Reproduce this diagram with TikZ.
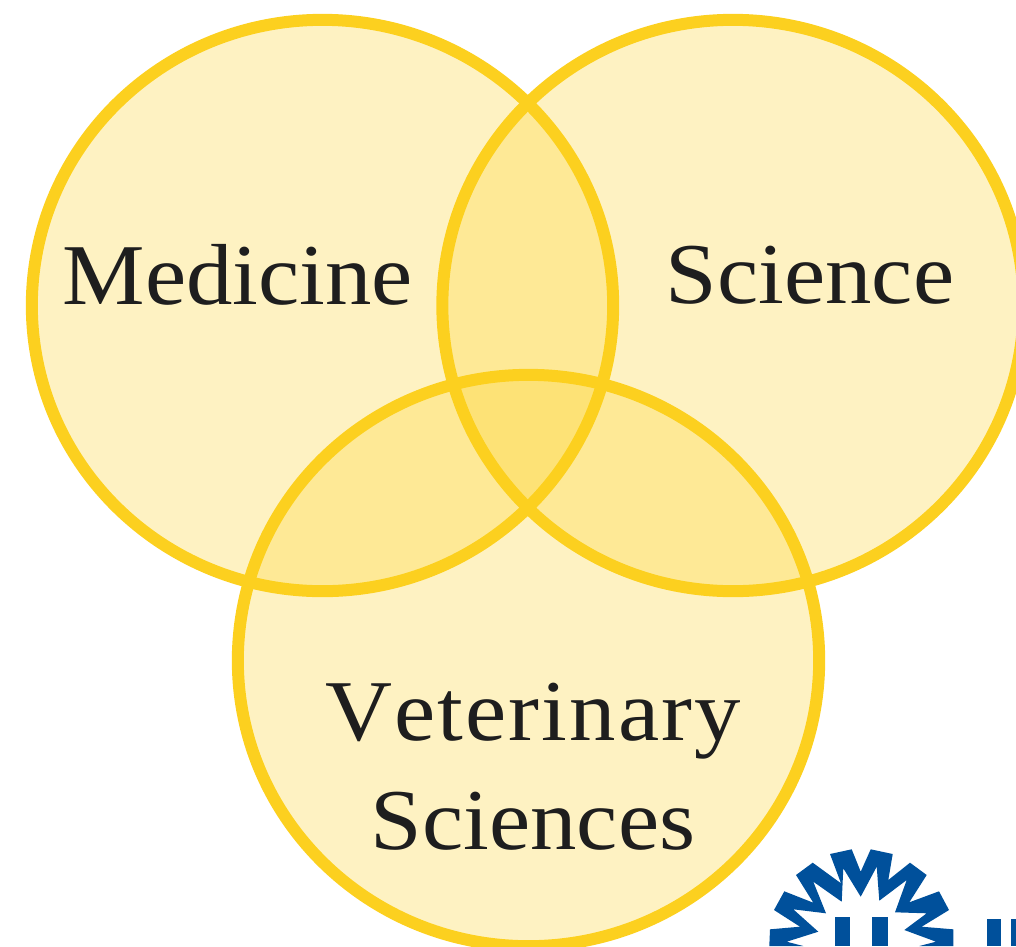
\documentclass[tikz,border=0pt]{standalone}
\usepackage{fontspec}
\setmainfont[FakeStretch=1.07,Kerning=Off]{Liberation Serif}
\usetikzlibrary{shapes.geometric}
\definecolor{ringyellow}{RGB}{252,208,31}
\definecolor{inkblack}{RGB}{30,30,30}
\definecolor{logoblue}{RGB}{0,80,155}
\begin{document}
\begin{tikzpicture}[x=0.75pt,y=-0.75pt,
    ring/.style={ellipse, draw=ringyellow, fill=ringyellow, fill opacity=0.27, draw opacity=1,
      line width=9pt, minimum width=436pt, minimum height=428.5pt, inner sep=0pt},
    label/.style={font=\fontsize{65}{82}\selectfont, text=inkblack, align=center, inner sep=0pt}]
\useasboundingbox (0,0) rectangle (1016,946);
\clip (0,0) rectangle (1016,946);
\node[ring] (medicine) at (322.5,305.5) {};
\node[ring] (science) at (733,305.5) {};
\node[ring] (veterinary) at (528.5,660.5) {};
\node[label] (medicinetext) at (238,275) {Medicine};
\node[label] (sciencetext) at (810,275) {Science};
\node[label] (veterinarytext) at (533,767) {\addfontfeature{LetterSpace=2.5}Veterinary\\Sciences};
% logo
\fill[logoblue] (769.3,946) -- (770,929.3) -- (800,926.7) -- (774,910) -- (784.3,891.3) -- (813.3,902.7)
  -- (796,875) -- (812.7,862.7) -- (841,883.3) -- (830,854) -- (851.7,849.3) -- (860.7,871.7)
  -- (870.7,849.3) -- (892.7,854) -- (888.3,880) -- (910,862.7) -- (926.7,875) -- (909.3,902.3)
  -- (939,891.3) -- (949,910) -- (921.7,926.7) -- (953.3,929.3) -- (953.3,946) -- (919.3,946)
  -- (936,941.7) -- (904.3,930) -- (926.7,913.3) -- (895,912.3) -- (906.7,880) -- (879.3,900.7)
  -- (876.7,866.7) -- (860.7,896.7) -- (843.3,868.3) -- (841.7,901.7) -- (813.3,881.7) -- (826,913.3)
  -- (793.3,909.3) -- (818.3,931.7) -- (786.7,941.7) -- (803.3,946) -- cycle;
\fill[logoblue] (835,917) rectangle (850,946);
\fill[logoblue] (872,917) rectangle (887.5,946);
\fill[logoblue] (986.7,919) rectangle (1001,946);
\fill[logoblue] (1011,919) rectangle (1016,946);
\end{tikzpicture}
\end{document}
